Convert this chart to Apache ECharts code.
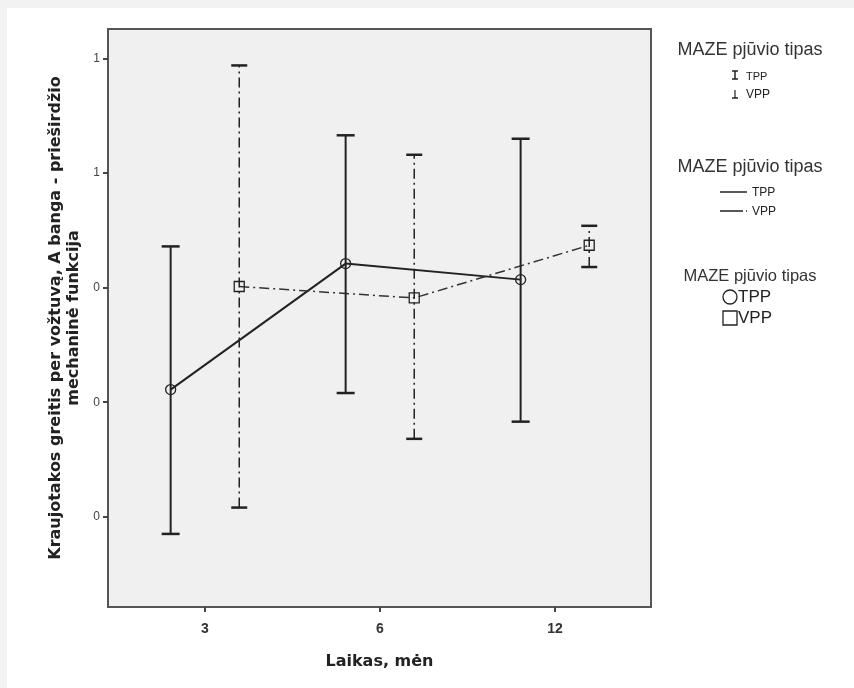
<!DOCTYPE html>
<html>
<head>
<meta charset="utf-8">
<script src="https://cdn.jsdelivr.net/npm/echarts@6/dist/echarts.min.js"></script>
<style>
    body { margin: 0; background: #f2f2f2; }
    #paper { position: absolute; left: 7px; top: 8px; right: 0; bottom: 0; background: #fff; }
    #chart { position: absolute; left: 0; top: 0; width: 854px; height: 688px; }
</style>
</head>
<body>
<div id="paper"></div>
<div id="chart"></div>
<script>
    // 数据
    var categories = ['3', '6', '12'];
    var tppMean = [0.311, 0.421, 0.407];
    var tppLow  = [0.185, 0.308, 0.283];
    var tppHigh = [0.436, 0.533, 0.530];
    var vppMean = [0.401, 0.391, 0.437];
    var vppLow  = [0.208, 0.268, 0.418];
    var vppHigh = [0.594, 0.516, 0.454];
    var yTicks = [0.2, 0.3, 0.4, 0.5, 0.6];
    var yTickLabels = ['0', '0', '0', '1', '1'];

    var OFFSET = 0.196;      // cluster offset inside each category
    var DASH = [10, 4, 2, 4];  // dash-dot for VPP

    function toPoints(mean, low, high, shift) {
        return mean.map(function (m, i) {
            return [i + 1 + shift, low[i], high[i], m];
        });
    }
    var tppData = toPoints(tppMean, tppLow, tppHigh, -OFFSET);
    var vppData = toPoints(vppMean, vppLow, vppHigh, OFFSET);

    function errorBar(marker, dash, width, cap) {
        return function (params, api) {
            var x = api.value(0);
            var lo = api.coord([x, api.value(1)]);
            var hi = api.coord([x, api.value(2)]);
            var m = api.coord([x, api.value(3)]);
            var st = { stroke: '#222', lineWidth: width, fill: null, lineDash: dash };
            var capSt = { stroke: '#222', lineWidth: 2.5 };
            var children = [
                { type: 'line', shape: { x1: lo[0], y1: lo[1], x2: hi[0], y2: hi[1] }, style: st },
                { type: 'line', shape: { x1: hi[0] - cap, y1: hi[1], x2: hi[0] + cap, y2: hi[1] }, style: capSt },
                { type: 'line', shape: { x1: lo[0] - cap, y1: lo[1], x2: lo[0] + cap, y2: lo[1] }, style: capSt }
            ];
            if (marker === 'circle') {
                children.push({ type: 'circle', shape: { cx: m[0], cy: m[1], r: 5 }, style: { stroke: '#222', lineWidth: 1.3, fill: null } });
            } else {
                children.push({ type: 'rect', shape: { x: m[0] - 5, y: m[1] - 5, width: 10, height: 10 }, style: { stroke: '#222', lineWidth: 1.3, fill: null } });
            }
            return { type: 'group', children: children };
        };
    }

    var myChart = echarts.init(document.getElementById('chart'));

    var titleFont = '18px "Liberation Sans", Arial, sans-serif';
    var option = {
        animation: false,
        backgroundColor: 'transparent',
        grid: {
            left: 108, right: 203, top: 29, bottom: 81,
            show: true, backgroundColor: '#f0f0f0', borderColor: '#555', borderWidth: 2,
            outerBoundsMode: 'none'
        },
        xAxis: {
            type: 'value', min: 0.446, max: 3.549,
            name: 'Laikas, mėn', nameLocation: 'middle', nameGap: 47,
            nameTextStyle: { fontFamily: 'DejaVu Sans', fontWeight: 'bold', fontSize: 16, color: '#222' },
            axisLine: { show: false },
            splitLine: { show: false },
            axisTick: { show: true, customValues: [1, 2, 3], length: 5, lineStyle: { color: '#444', width: 2 } },
            axisLabel: {
                customValues: [1, 2, 3], margin: 15,
                fontFamily: 'Liberation Sans', fontWeight: 'bold', fontSize: 14, color: '#333',
                formatter: function (v) { return categories[Math.round(v) - 1]; }
            }
        },
        yAxis: {
            type: 'value', min: 0.1212, max: 0.6258,
            name: 'Kraujotakos greitis per vožtuvą, A banga - prieširdžio\nmechaninė funkcija',
            nameLocation: 'middle', nameGap: 24,
            nameTextStyle: { fontFamily: 'DejaVu Sans', fontWeight: 'bold', fontSize: 16, lineHeight: 18, color: '#222' },
            axisLine: { show: false },
            splitLine: { show: false },
            axisTick: { show: true, customValues: yTicks, length: 5, lineStyle: { color: '#444', width: 2 } },
            axisLabel: {
                customValues: yTicks, margin: 8,
                fontFamily: 'Liberation Sans', fontSize: 12, color: '#444',
                formatter: function (v) {
                    var i = yTicks.findIndex(function (t) { return Math.abs(t - v) < 1e-6; });
                    return i >= 0 ? yTickLabels[i] : '';
                }
            }
        },
        series: [
            {
                name: 'TPP', type: 'line', symbol: 'none',
                data: tppData.map(function (d) { return [d[0], d[3]]; }),
                lineStyle: { color: '#222', width: 2 }, z: 2
            },
            {
                name: 'VPP', type: 'line', symbol: 'none',
                data: vppData.map(function (d) { return [d[0], d[3]]; }),
                lineStyle: { color: '#333', width: 1.5, type: DASH }, z: 2
            },
            {
                name: 'TPP', type: 'custom', renderItem: errorBar('circle', null, 2, 9),
                encode: { x: 0, y: [1, 2] }, data: tppData, z: 3
            },
            {
                name: 'VPP', type: 'custom', renderItem: errorBar('rect', DASH, 1.5, 8),
                encode: { x: 0, y: [1, 2] }, data: vppData, z: 3
            }
        ],
        // legendos (SPSS stiliaus)
        graphic: [
            { type: 'text', x: 750, y: 50, style: { text: 'MAZE pjūvio tipas', font: titleFont, fill: '#333', align: 'center', verticalAlign: 'middle' } },
            { type: 'line', shape: { x1: 735, y1: 71, x2: 735, y2: 79 }, style: { stroke: '#222', lineWidth: 1.5 } },
            { type: 'line', shape: { x1: 732, y1: 71, x2: 738, y2: 71 }, style: { stroke: '#222', lineWidth: 1.5 } },
            { type: 'line', shape: { x1: 732, y1: 79, x2: 738, y2: 79 }, style: { stroke: '#222', lineWidth: 1.5 } },
            { type: 'text', x: 746, y: 77, style: { text: 'TPP', font: '11px "Liberation Sans", Arial', fill: '#222', verticalAlign: 'middle' } },
            { type: 'line', shape: { x1: 735, y1: 90, x2: 735, y2: 98 }, style: { stroke: '#222', lineWidth: 1.2 } },
            { type: 'line', shape: { x1: 732, y1: 98, x2: 738, y2: 98 }, style: { stroke: '#222', lineWidth: 1.5 } },
            { type: 'text', x: 746, y: 95, style: { text: 'VPP', font: '12px "Liberation Sans", Arial', fill: '#222', verticalAlign: 'middle' } },

            { type: 'text', x: 750, y: 167, style: { text: 'MAZE pjūvio tipas', font: titleFont, fill: '#333', align: 'center', verticalAlign: 'middle' } },
            { type: 'line', shape: { x1: 720, y1: 192, x2: 747, y2: 192 }, style: { stroke: '#222', lineWidth: 1.5 } },
            { type: 'text', x: 752, y: 193, style: { text: 'TPP', font: '12px "Liberation Sans", Arial', fill: '#222', verticalAlign: 'middle' } },
            { type: 'line', shape: { x1: 720, y1: 211, x2: 748, y2: 211 }, style: { stroke: '#222', lineWidth: 1.5, lineDash: [23, 3, 1, 3] } },
            { type: 'text', x: 752, y: 212, style: { text: 'VPP', font: '12px "Liberation Sans", Arial', fill: '#222', verticalAlign: 'middle' } },

            { type: 'text', x: 750, y: 276, style: { text: 'MAZE pjūvio tipas', font: '16.5px "Liberation Sans", Arial', fill: '#333', align: 'center', verticalAlign: 'middle' } },
            { type: 'circle', shape: { cx: 730, cy: 297, r: 7 }, style: { stroke: '#222', lineWidth: 1.3, fill: null } },
            { type: 'text', x: 738, y: 297, style: { text: 'TPP', font: '17px "Liberation Sans", Arial', fill: '#222', verticalAlign: 'middle' } },
            { type: 'rect', shape: { x: 723, y: 311, width: 14, height: 14 }, style: { stroke: '#222', lineWidth: 1.3, fill: null } },
            { type: 'text', x: 738, y: 318, style: { text: 'VPP', font: '17px "Liberation Sans", Arial', fill: '#222', verticalAlign: 'middle' } }
        ]
    };

    myChart.setOption(option);
</script>
</body>
</html>
